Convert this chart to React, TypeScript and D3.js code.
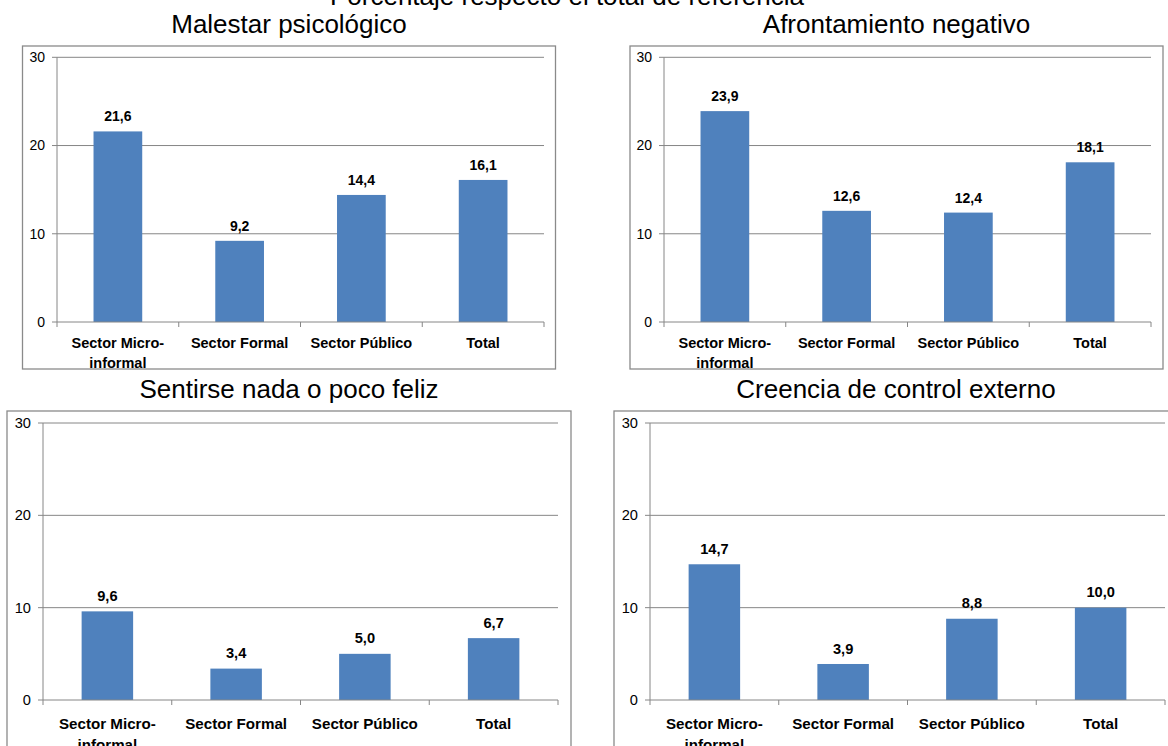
import React from "react";
import * as d3 from "d3";

// Categories shared by the four panels
const categories = ["Sector Micro-informal", "Sector Formal", "Sector Público", "Total"];

// Percent values per indicator, one array per panel
const malestarPsicologico = [21.6, 9.2, 14.4, 16.1];
const afrontamientoNegativo = [23.9, 12.6, 12.4, 18.1];
const sentirseNadaPocoFeliz = [9.6, 3.4, 5.0, 6.7];
const creenciaControlExterno = [14.7, 3.9, 8.8, 10.0];

const panelTitles = [
  "Malestar psicológico",
  "Afrontamiento negativo",
  "Sentirse nada o poco feliz",
  "Creencia de control externo",
];
const panelValues = [malestarPsicologico, afrontamientoNegativo, sentirseNadaPocoFeliz, creenciaControlExterno];

const yTicks = [0, 10, 20, 30];
const mainTitle = "Porcentaje respecto el total de referencia";

// Frame and plot geometry of each panel
const layout = [
  { bx: 22.5, by: 46, bw: 533, bh: 323, x0: 57, x1: 544, yTop: 57.3, y0: 322, titleY: 33, k: 1, catDy: 26, lineH: 20 },
  { bx: 630, by: 46, bw: 533, bh: 323, x0: 664, x1: 1151, yTop: 57.3, y0: 322, titleY: 33, k: 1, catDy: 26, lineH: 20 },
  { bx: 7, by: 411, bw: 564, bh: 345, x0: 43, x1: 558, yTop: 423, y0: 700, titleY: 398, k: 1.045, catDy: 29, lineH: 21 },
  { bx: 614, by: 411, bw: 564, bh: 345, x0: 650, x1: 1165, yTop: 423, y0: 700, titleY: 398, k: 1.045, catDy: 29, lineH: 21 },
];

const BAR = "#4F81BD";
const GRID = "#868686";
const FRAME = "#8a8a8a";
const FONT = "'Liberation Sans', Arial, Helvetica, sans-serif";

const locale = d3.formatLocale({ decimal: ",", thousands: ".", grouping: [3], currency: ["", "€"] });
const fmt = locale.format(".1f");

// Break a category after its hyphen so it wraps onto two lines
function wrap(label: string): string[] {
  const i = label.indexOf("-");
  return i >= 0 ? [label.slice(0, i + 1), label.slice(i + 1)] : [label];
}

function Panel({ idx }: { idx: number }) {
  const L = layout[idx];
  const values = panelValues[idx];
  const x = d3.scaleBand<string>().domain(categories).range([L.x0, L.x1]).paddingInner(0.6).paddingOuter(0.3);
  const y = d3.scaleLinear().domain([0, 30]).range([L.y0, L.yTop]);
  const step = x.step();
  const boundaries = d3.range(categories.length + 1).map((i) => L.x0 + i * step);
  const clipId = `clip-${idx}`;
  const fsTick = 14 * L.k;
  const fsVal = 14 * L.k;
  const fsCat = 14.5 * L.k;

  return (
    <g>
      <defs>
        <clipPath id={clipId}>
          <rect x={L.bx} y={L.by} width={L.bw} height={L.bh} />
        </clipPath>
      </defs>
      <text x={L.bx + L.bw / 2} y={L.titleY} textAnchor="middle" fontSize={26} fontFamily={FONT} fill="#000">
        {panelTitles[idx]}
      </text>
      <g clipPath={`url(#${clipId})`}>
        <rect x={L.bx} y={L.by} width={L.bw} height={L.bh} fill="#fff" />
        {yTicks.filter((t) => t > 0).map((t) => (
          <line key={t} x1={L.x0} x2={L.x1} y1={y(t)} y2={y(t)} stroke={GRID} strokeWidth={1} />
        ))}
        {yTicks.map((t) => (
          <g key={`yt${t}`}>
            <line x1={L.x0 - 5} x2={L.x0} y1={y(t)} y2={y(t)} stroke={GRID} strokeWidth={1} />
            <text x={L.x0 - 12} y={y(t)} dy="0.35em" textAnchor="end" fontSize={fsTick} fontFamily={FONT} fill="#000">
              {t}
            </text>
          </g>
        ))}
        {categories.map((c, i) => (
          <rect key={c} x={x(c)} y={y(values[i])} width={x.bandwidth()} height={y(0) - y(values[i])} fill={BAR} />
        ))}
        <line x1={L.x0} x2={L.x0} y1={y(30)} y2={y(0)} stroke={GRID} strokeWidth={1} />
        <line x1={L.x0} x2={L.x1} y1={y(0)} y2={y(0)} stroke={GRID} strokeWidth={1} />
        {boundaries.map((bx, i) => (
          <line key={`xt${i}`} x1={bx} x2={bx} y1={y(0)} y2={y(0) + 5} stroke={GRID} strokeWidth={1} />
        ))}
        {categories.map((c, i) => (
          <text
            key={`v${c}`}
            x={(x(c) as number) + x.bandwidth() / 2}
            y={y(values[i]) - 10 * L.k}
            textAnchor="middle"
            fontSize={fsVal}
            fontWeight="bold"
            fontFamily={FONT}
            fill="#000"
          >
            {fmt(values[i])}
          </text>
        ))}
        {categories.map((c) => (
          <text
            key={`c${c}`}
            x={(x(c) as number) + x.bandwidth() / 2}
            y={y(0) + L.catDy}
            textAnchor="middle"
            fontSize={fsCat}
            fontWeight="bold"
            fontFamily={FONT}
            fill="#000"
          >
            {wrap(c).map((line, j) => (
              <tspan key={j} x={(x(c) as number) + x.bandwidth() / 2} dy={j === 0 ? 0 : L.lineH}>
                {line}
              </tspan>
            ))}
          </text>
        ))}
      </g>
      <rect x={L.bx} y={L.by} width={L.bw} height={L.bh} fill="none" stroke={FRAME} strokeWidth={1.3} />
    </g>
  );
}

export default function App() {
  return (
    <svg
      width={1168}
      height={746}
      viewBox="0 0 1168 746"
      style={{ position: "fixed", left: 0, top: 0, background: "#fff", display: "block" }}
    >
      <rect x={0} y={0} width={1168} height={746} fill="#fff" />
      <text x={567} y={5} textAnchor="middle" fontSize={26} fontFamily={FONT} fill="#000">
        {mainTitle}
      </text>
      {panelTitles.map((_, i) => (
        <Panel key={i} idx={i} />
      ))}
    </svg>
  );
}
